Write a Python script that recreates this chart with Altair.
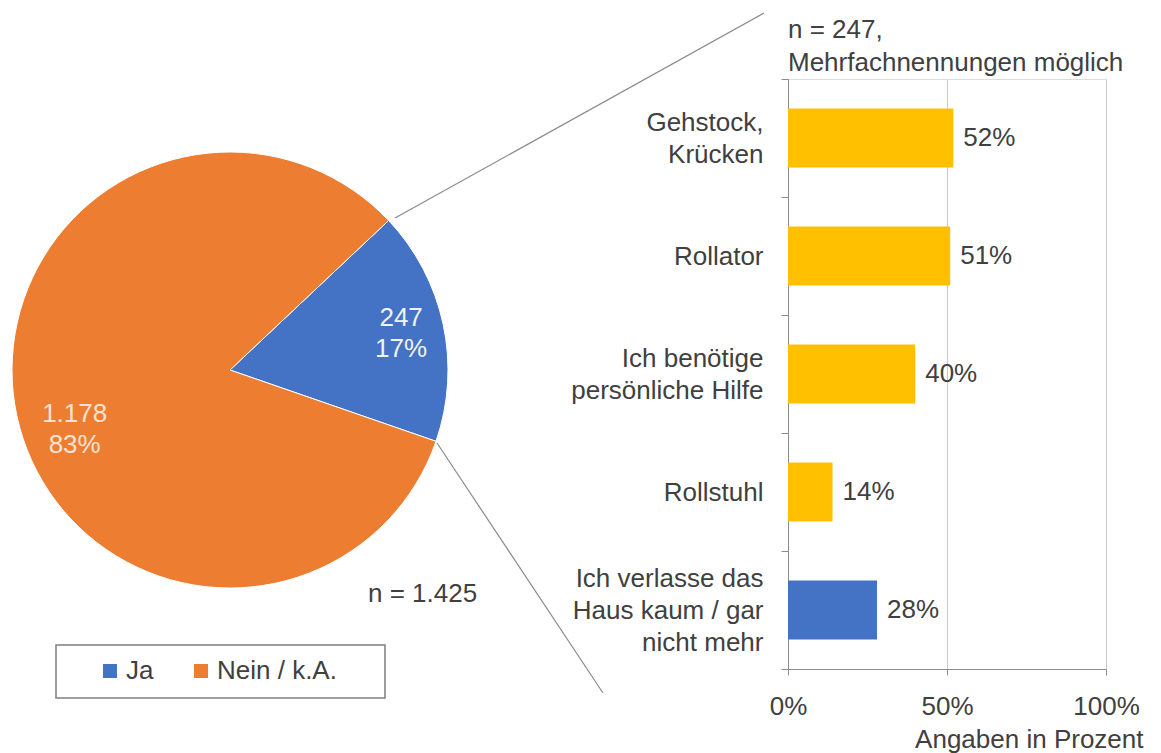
import math
import altair as alt
import pandas as pd

# ---- data ----
pie_categories = ["Ja", "Nein / k.A."]
pie_values = [247, 1178]
pie_colors = ["#4472C4", "#ED7D31"]

bar_categories = [
    "Gehstock,\nKrücken",
    "Rollator",
    "Ich benötige\npersönliche Hilfe",
    "Rollstuhl",
    "Ich verlasse das\nHaus kaum / gar\nnicht mehr",
]
bar_values = [52, 51, 40, 14, 28]
bar_types = ["Hilfsmittel", "Hilfsmittel", "Hilfsmittel", "Hilfsmittel", "Haus"]

x_ticks = [0, 50, 100]
title_lines = "n = 247,\nMehrfachnennungen möglich"
pie_note = "n = 1.425"
x_title = "Angaben in Prozent"

FONT = "Liberation Sans"
FS = 26
LH = 32
TXT = "#404040"
YELLOW = "#FFC000"
BLUE = "#4472C4"
AXIS = "#8c8c8c"
GRID = "#c8c8c8"
LINE = "#8a8a8a"

pie_df = pd.DataFrame({"cat": pie_categories, "value": pie_values})
bar_df = pd.DataFrame({"cat": bar_categories, "pct": bar_values, "type": bar_types})
one = pd.DataFrame({"a": [0]})

theta_scale = alt.Scale(range=[0.815, 0.815 + 2 * math.pi])
PCX, PCY = -558, 291  # pie centre relative to the bar plot origin

# ---- pie ----
pie = alt.Chart(pie_df).mark_arc(radius=218, stroke="#ffffff", strokeWidth=1).encode(
    theta=alt.Theta("value:Q", stack=True, scale=theta_scale),
    color=alt.Color(
        "cat:N",
        scale=alt.Scale(domain=pie_categories, range=pie_colors),
        legend=alt.Legend(
            orient="none", legendX=-691, legendY=579, direction="horizontal",
            title=None, symbolType="square", symbolSize=196, symbolStrokeWidth=0,
            labelFontSize=FS, labelColor=TXT, labelFont=FONT, labelOffset=3,
            columnPadding=34, padding=0,
        ),
    ),
    order=alt.Order("cat:N", sort="ascending"),
    x=alt.value(PCX),
    y=alt.value(PCY),
)

pie_lab_base = alt.Chart(pie_df).transform_joinaggregate(
    total="sum(value)"
).transform_window(
    cum="sum(value)", sort=[alt.SortField("cat")], frame=[None, 0]
).transform_calculate(
    mid="datum.cum - datum.value / 2",
    pct="round(datum.value / datum.total * 100)",
    label="replace(format(datum.value, ','), ',', '.') + '\\n' + datum.pct + '%'",
)

pie_lab_ja = pie_lab_base.transform_filter(alt.datum.cat == "Ja").mark_text(
    radius=175, dy=-15, fontSize=FS, font=FONT, color="#f2f2f2", align="center",
    baseline="middle", lineBreak="\n", lineHeight=31,
).encode(
    theta=alt.Theta("mid:Q", stack=None, scale=theta_scale),
    text="label:N", x=alt.value(PCX), y=alt.value(PCY),
)

pie_lab_nein = pie_lab_base.transform_filter(alt.datum.cat == "Nein / k.A.").mark_text(
    radius=165, dx=6, dy=9, fontSize=FS, font=FONT, color="#fbe2d5", align="center",
    baseline="middle", lineBreak="\n", lineHeight=31,
).encode(
    theta=alt.Theta("mid:Q", stack=None, scale=theta_scale),
    text="label:N", x=alt.value(PCX), y=alt.value(PCY),
)

# ---- connectors, legend frame, notes ----
conn1 = alt.Chart(one).mark_rule(color=LINE, strokeWidth=1.2).encode(
    x=alt.value(-393), y=alt.value(139), x2=alt.value(-24), y2=alt.value(-66)
)
conn2 = alt.Chart(one).mark_rule(color=LINE, strokeWidth=1.2).encode(
    x=alt.value(-351), y=alt.value(364), x2=alt.value(-185), y2=alt.value(614)
)
legend_box = alt.Chart(one).mark_rect(fillOpacity=0, stroke="#7f7f7f", strokeWidth=1.5).encode(
    x=alt.value(-732), x2=alt.value(-403), y=alt.value(566), y2=alt.value(619)
)
note = alt.Chart(pd.DataFrame({"t": [pie_note]})).mark_text(
    align="left", baseline="alphabetic", fontSize=FS, font=FONT, color=TXT
).encode(text="t:N", x=alt.value(-420), y=alt.value(523))

head = alt.Chart(pd.DataFrame({"t": [title_lines]})).mark_text(
    align="left", baseline="alphabetic", fontSize=FS, font=FONT, color=TXT,
    lineBreak="\n", lineHeight=33,
).encode(text="t:N", x=alt.value(0), y=alt.value(-41))

# ---- bars ----
x_enc = alt.X(
    "pct:Q",
    scale=alt.Scale(domain=[0, 100], nice=False),
    axis=alt.Axis(
        values=x_ticks, labelExpr="datum.value + '%'", labelFlush=False,
        labelOverlap=False, tickSize=6, labelPadding=18, grid=True,
        gridColor=GRID, domainColor=AXIS, tickColor=AXIS,
        labelFontSize=FS, labelColor=TXT, labelFont=FONT,
        title=x_title, titleX=355, titleY=78, titleAlign="right",
        titleBaseline="alphabetic", titleFontSize=FS, titleFontWeight="normal",
        titleColor=TXT, titleFont=FONT,
    ),
)
nlines = "length(split(datum.label, '\\n'))"
y_enc = alt.Y(
    "cat:N",
    sort=bar_categories,
    scale=alt.Scale(paddingInner=0, paddingOuter=0),
    axis=alt.Axis(
        title=None, labelExpr="split(datum.label, '\\n')", labelFontSize=FS,
        labelFont=FONT, labelColor=TXT, labelLineHeight=LH, labelLimit=400,
        labelPadding=18, tickSize=7, tickBand="extent", domainColor=AXIS,
        tickColor=AXIS, grid=False,
        labelOffset={
            "condition": [
                {"test": nlines + " == 3", "value": -LH},
                {"test": nlines + " == 2", "value": -LH / 2},
            ],
            "value": 0,
        },
    ),
)

bars = alt.Chart(bar_df).mark_bar(height={"band": 0.5}).encode(
    x=x_enc,
    y=y_enc,
    color=alt.condition(alt.datum.type == "Haus", alt.value(BLUE), alt.value(YELLOW)),
)
bar_text = alt.Chart(bar_df).transform_calculate(
    lab="datum.pct + '%'"
).mark_text(align="left", baseline="middle", dx=10, fontSize=FS, font=FONT, color=TXT).encode(
    x=alt.X("pct:Q"), y=alt.Y("cat:N", sort=bar_categories), text="lab:N"
)

chart = alt.layer(
    pie, pie_lab_ja, pie_lab_nein, conn1, conn2, legend_box, note, head, bars, bar_text
).properties(
    width=318, height=590, autosize="none",
    padding={"left": 780, "top": 71, "right": 45, "bottom": 86},
).configure_view(strokeWidth=0).configure(font=FONT)

chart.save("out.html", embed_options={"renderer": "svg", "actions": False})
